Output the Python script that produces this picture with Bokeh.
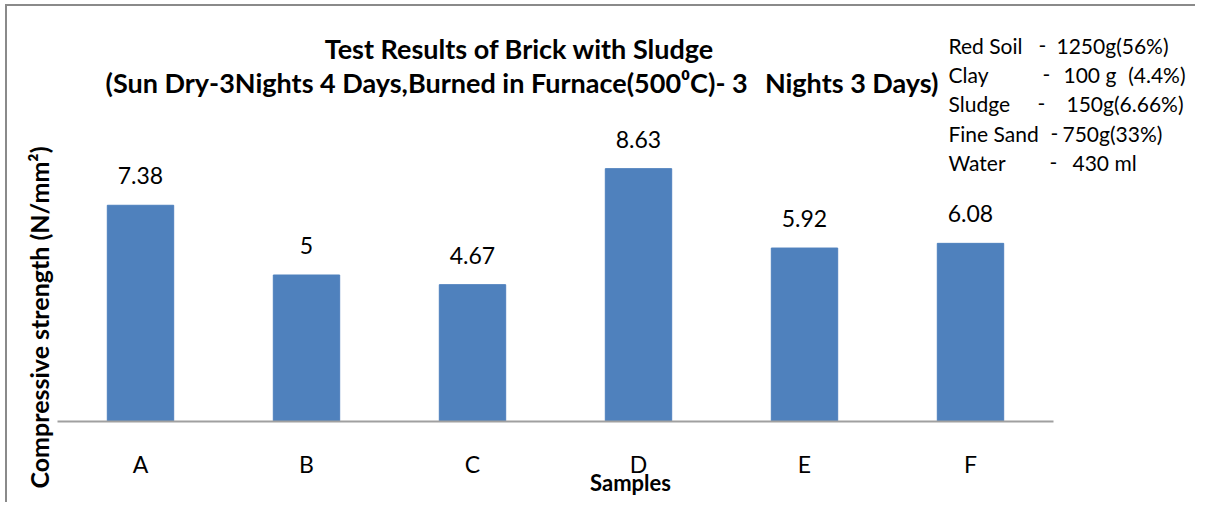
from bokeh.plotting import figure
from bokeh.models import ColumnDataSource, Label, LabelSet, Range1d
from bokeh.core.properties import value
from bokeh.embed import file_html
from bokeh.resources import INLINE
import math

# ---- data ----
samples = ["A", "B", "C", "D", "E", "F"]
strength = [7.38, 5.0, 4.67, 8.63, 5.92, 6.08]
strength_labels = ["7.38", "5", "4.67", "8.63", "5.92", "6.08"]
materials = ["Red Soil", "Clay", "Sludge", "Fine Sand", "Water"]
amounts = ["1250g(56%)", "100 g  (4.4%)", "150g(6.66%)", "750g(33%)", "430 ml"]
title_lines = ["Test Results of Brick with Sludge",
               "(Sun Dry-3Nights 4 Days,Burned in Furnace(500\u2070C)- 3  Nights 3 Days)"]
x_title = "Samples"
y_title = "Compressive strength (N/mm\u00b2)"
y_max = 10

# ---- layout (picture pixels) ----
FONT = "Lato"
ML, MT, BW = 5, 4, 2            # css margin-left, margin-top, border width
CX, CY = ML + BW, MT + BW       # position of canvas origin
W, H = 1190, 498
PA_L, PA_R, PA_B, PA_T = 57, 1053, 421, 128   # plot area in pixels

n = len(samples)
ppx = (PA_R - PA_L) / n
ppy = (PA_B - PA_T) / y_max

def dx(px):
    return (px - PA_L) / ppx

def dy(py):
    return (PA_B - py) / ppy

p = figure(width=W, height=H,
           x_range=Range1d(dx(CX), dx(CX + W)),
           y_range=Range1d(dy(CY + H), dy(CY)),
           output_backend="svg", toolbar_location=None,
           min_border=0, min_border_left=0, min_border_right=0,
           min_border_top=0, min_border_bottom=0)
p.styles = {"margin-left": f"{ML}px", "margin-top": f"{MT}px",
            "border-top": f"{BW}px solid #8a8a8a", "border-left": f"{BW}px solid #8a8a8a"}
p.outline_line_color = None
p.background_fill_color = "white"
p.border_fill_color = "white"
p.grid.visible = False
p.axis.visible = False

xpos = [i + 0.5 for i in range(n)]
src = ColumnDataSource(dict(x=xpos, top=strength, lab=strength_labels, cat=samples,
                            zero=[0] * n))
p.vbar(x="x", top="top", width=0.4, bottom=0, source=src,
       fill_color="#4f81bd", line_color="#4f81bd")
# category axis baseline
p.segment(x0=0, y0=0, x1=n, y1=0, line_color="#a0a0a0", line_width=2)

# category labels
p.add_layout(LabelSet(x="x", y="zero", text="cat", source=src, y_offset=-51,
                      text_align="center", text_baseline="alphabetic",
                      text_font=value(FONT), text_font_size="23px", text_color="#000000"))
# data labels
p.add_layout(LabelSet(x="x", y="top", text="lab", source=src, y_offset=21,
                      text_align="center", text_baseline="alphabetic",
                      text_font=value(FONT), text_font_size="23px", text_color="#000000"))

def label(txt, px, py, align="left", size=21, bold=False, angle=0.0, baseline="alphabetic"):
    shift = 0.38 * size if baseline == "alphabetic" else 0.0
    p.add_layout(Label(x=dx(px), y=dy(py - shift), text=txt, text_align=align,
                       text_baseline=baseline, angle=angle,
                       text_font=FONT, text_font_style="bold" if bold else "normal",
                       text_font_size=f"{size}px", text_color="#000000"))

# titles (line 2 split where it has a double space, which svg would collapse)
label(title_lines[0], 519, 58, align="center", size=27, bold=True)
t2a, t2b = title_lines[1].split("  ")
label(t2a, 105, 92, align="left", size=27, bold=True)
label(t2b, 938, 92, align="right", size=27, bold=True)

# axis titles
label(x_title, 630, 490, align="center", size=22, bold=True)
label(y_title, 38, 317, align="center", size=25, bold=True, angle=math.pi / 2,
      baseline="middle")

# composition notes
name_x = 948
dash_x = [1038, 1042, 1037, 1050, 1049]
amt_x = [1056, 1063, 1066, 1062, 1072]
amt_right = {1: 1185}
for i, (m, a) in enumerate(zip(materials, amounts)):
    by = 52.7 + i * 29.3
    label(m, name_x, by)
    label("-", dash_x[i], by)
    parts = a.split("  ")
    label(parts[0], amt_x[i], by)
    if len(parts) > 1:
        label(parts[1], amt_right[i], by, align="right")

open("out.html", "w").write(file_html(p, INLINE))
